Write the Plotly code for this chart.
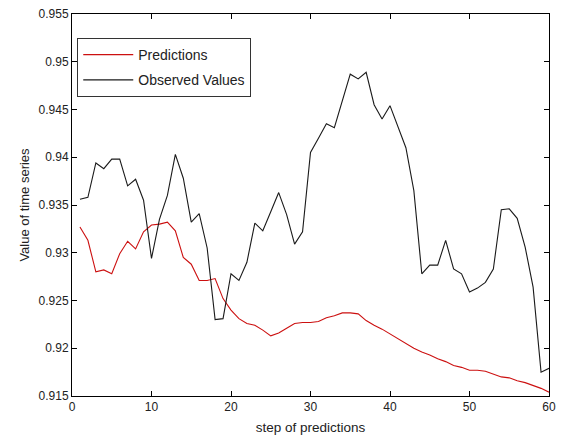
import plotly.graph_objects as go

steps = list(range(1, 61))

predictions = [
    0.9327, 0.9313, 0.9280, 0.9282, 0.9278, 0.9299, 0.9312, 0.9304, 0.9322, 0.9329,
    0.9330, 0.9332, 0.9323, 0.9295, 0.9288, 0.9271, 0.9271, 0.9273, 0.9252, 0.9240,
    0.9231, 0.9226, 0.9224, 0.9219, 0.9213, 0.9216, 0.9221, 0.9226, 0.9227, 0.9227,
    0.9228, 0.9232, 0.9234, 0.9237, 0.9237, 0.9236, 0.9229, 0.9224, 0.9220, 0.9215,
    0.9210, 0.9205, 0.9200, 0.9196, 0.9193, 0.9189, 0.9186, 0.9182, 0.9180, 0.9177,
    0.9177, 0.9176, 0.9173, 0.9170, 0.9169, 0.9166, 0.9164, 0.9161, 0.9158, 0.9154,
]

observed = [
    0.9356, 0.9358, 0.9394, 0.9388, 0.9398, 0.9398, 0.9370, 0.9377, 0.9355, 0.9294,
    0.9335, 0.9360, 0.9403, 0.9378, 0.9332, 0.9341, 0.9305, 0.9230, 0.9231, 0.9278,
    0.9271, 0.9290, 0.9331, 0.9323, 0.9343, 0.9363, 0.9340, 0.9309, 0.9322, 0.9405,
    0.9420, 0.9435, 0.9431, 0.9458, 0.9487, 0.9482, 0.9489, 0.9455, 0.9440, 0.9454,
    0.9431, 0.9410, 0.9365, 0.9278, 0.9287, 0.9287, 0.9313, 0.9283, 0.9278, 0.9259,
    0.9263, 0.9269, 0.9283, 0.9345, 0.9346, 0.9336, 0.9306, 0.9264, 0.9175, 0.9179,
]

x_ticks = [0, 10, 20, 30, 40, 50, 60]
y_ticks = [0.915, 0.92, 0.925, 0.93, 0.935, 0.94, 0.945, 0.95, 0.955]
y_ticktext = ["0.915", "0.92", "0.925", "0.93", "0.935", "0.94", "0.945", "0.95", "0.955"]

FONT = "Liberation Sans, Arial, sans-serif"

fig = go.Figure()
fig.add_trace(go.Scatter(
    x=steps, y=predictions, mode="lines", name="Predictions",
    line=dict(color="#cc1010", width=1.1), legendgroup="a",
))
fig.add_trace(go.Scatter(
    x=steps, y=observed, mode="lines", name="Observed Values",
    line=dict(color="#1a1a1a", width=1.1), legendgroup="b",
))

axis_common = dict(
    showline=True, linecolor="black", linewidth=1, mirror="ticks",
    ticks="inside", ticklen=5, tickcolor="black", tickwidth=1,
    showgrid=False, zeroline=False,
    tickfont=dict(family=FONT, size=12, color="#222"),
)

fig.update_xaxes(
    range=[0, 60], tickvals=x_ticks, ticktext=[str(v) for v in x_ticks],
    title=dict(text="step of predictions", font=dict(family=FONT, size=13.5, color="#222"), standoff=9),
    **axis_common,
)
fig.update_yaxes(
    range=[0.915, 0.955], tickvals=y_ticks, ticktext=y_ticktext,
    title=dict(text="Value of time series", font=dict(family=FONT, size=13, color="#222"), standoff=6),
    **axis_common,
)

fig.update_layout(
    width=563, height=442,
    margin=dict(l=72, r=7, t=13, b=46),
    paper_bgcolor="white", plot_bgcolor="white",
    showlegend=True,
    legend=dict(
        x=0.011, y=0.937, xanchor="left", yanchor="top",
        bordercolor="#333", borderwidth=1, bgcolor="white",
        font=dict(family=FONT, size=14, color="#222"),
        traceorder="grouped", tracegroupgap=4,
        itemwidth=50,
    ),
)

fig.write_html("out.html")
